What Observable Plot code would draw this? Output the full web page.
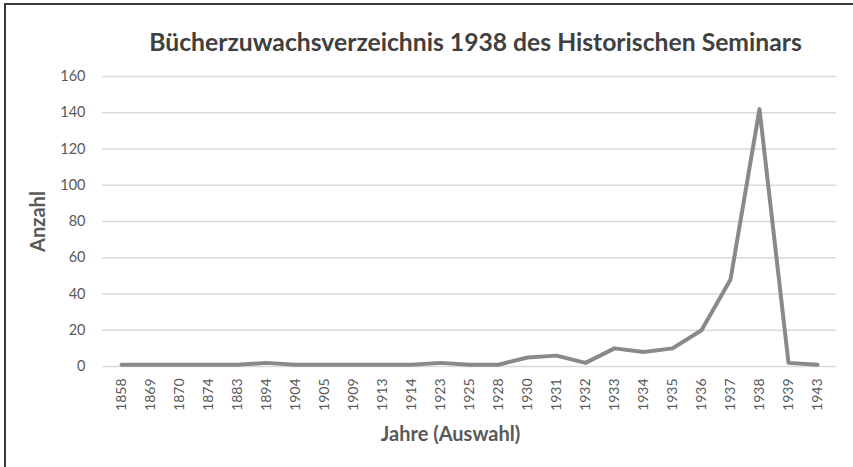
<!DOCTYPE html>
<html>
<head>
<meta charset="utf-8">
<script src="https://cdn.jsdelivr.net/npm/d3@7"></script>
<script src="https://cdn.jsdelivr.net/npm/@observablehq/plot@0.6"></script>
<style>
  html, body { margin: 0; padding: 0; background: #fff; }
  #wrap { position: relative; width: 853px; height: 467px; overflow: hidden; }
  #frame { position: absolute; left: 4px; top: 3px; width: 860px; height: 480px;
           border-left: 2px solid #3a3a3a; border-top: 2px solid #3a3a3a; box-sizing: border-box; pointer-events: none; }
</style>
</head>
<body>
<div id="wrap"><div id="frame"></div></div>
<script>
const years = ["1858","1869","1870","1874","1883","1894","1904","1905","1909","1913","1914","1923","1925","1928","1930","1931","1932","1933","1934","1935","1936","1937","1938","1939","1943"];
const counts = [1,1,1,1,1,2,1,1,1,1,1,2,1,1,5,6,2,10,8,10,20,48,142,2,1];
const yTicks = [0,20,40,60,80,100,120,140,160];
const titleText = "Bücherzuwachsverzeichnis 1938 des Historischen Seminars";
const xTitle = "Jahre (Auswahl)";
const yTitle = "Anzahl";

const data = years.map((y, i) => ({year: y, count: counts[i]}));

const chart = Plot.plot({
  width: 853,
  height: 467,
  marginTop: 76,
  marginBottom: 101,
  marginLeft: 102,
  marginRight: 17,
  style: { fontFamily: "Lato, 'Open Sans', sans-serif", background: "transparent", overflow: "visible" },
  x: { type: "point", domain: years, padding: 0.5, label: null },
  y: { domain: [0, 160], label: null },
  marks: [
    Plot.gridY(yTicks, { stroke: "#d9d9d9", strokeOpacity: 1, strokeWidth: 1.6 }),
    Plot.axisY(yTicks, { tickSize: 0, tickPadding: 17, fontSize: 14.5, color: "#595959", label: null }),
    Plot.axisX({ tickSize: 0, tickRotate: -90, tickPadding: 12, fontSize: 14, color: "#595959", label: null }),
    Plot.line(data, { x: "year", y: "count", stroke: "#898989", strokeWidth: 4, strokeLinejoin: "round", strokeLinecap: "round" }),
    Plot.text([titleText], { frameAnchor: "top", dx: 6, dy: -33, fontSize: 24.7, fontWeight: "bold", fill: "#404040", textAnchor: "middle", lineAnchor: "middle" }),
    Plot.text([xTitle], { frameAnchor: "bottom", dx: -19, dy: 68, fontSize: 20, fontWeight: "bold", fill: "#595959", textAnchor: "middle", lineAnchor: "middle" }),
    Plot.text([yTitle], { frameAnchor: "left", dx: -64, rotate: -90, fontSize: 20, fontWeight: "bold", fill: "#595959", textAnchor: "middle", lineAnchor: "middle" })
  ]
});
document.getElementById("wrap").appendChild(chart);
chart.style.position = "absolute";
chart.style.left = "0px";
chart.style.top = "0px";
</script>
</body>
</html>
